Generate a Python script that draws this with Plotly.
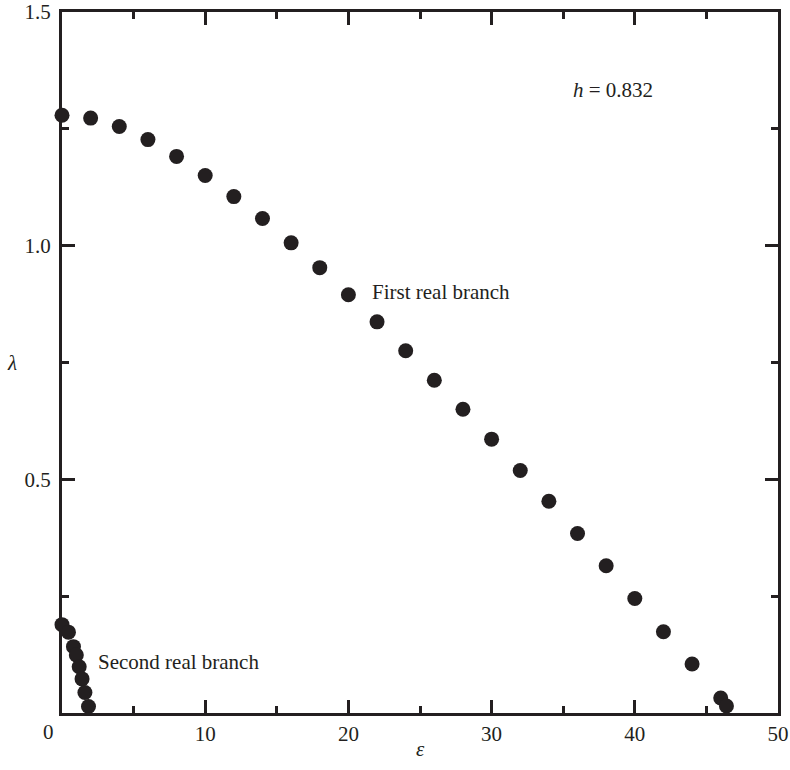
import plotly.graph_objects as go

# First real branch: growth rate lambda vs. epsilon
eps_first = [0, 2, 4, 6, 8, 10, 12, 14, 16, 18, 20, 22, 24, 26, 28, 30,
             32, 34, 36, 38, 40, 42, 44, 46, 46.4]
lam_first = [1.279, 1.273, 1.255, 1.227, 1.191, 1.150, 1.105, 1.058, 1.006,
             0.953, 0.895, 0.837, 0.775, 0.712, 0.650, 0.586, 0.519, 0.453,
             0.384, 0.315, 0.245, 0.174, 0.105, 0.032, 0.015]

# Second real branch
eps_second = [0, 0.45, 0.8, 1.0, 1.2, 1.4, 1.6, 1.85]
lam_second = [0.189, 0.173, 0.142, 0.124, 0.099, 0.073, 0.044, 0.014]

x_ticks = [10, 20, 30, 40, 50]
y_ticks = [0.5, 1.0, 1.5]

INK = "#231f20"
FONT = "Liberation Serif, Times New Roman, serif"
FS = 21

fig = go.Figure()
for xs, ys in [(eps_first, lam_first), (eps_second, lam_second)]:
    fig.add_trace(go.Scatter(
        x=xs, y=ys, mode="markers", cliponaxis=False,
        marker=dict(size=15, color=INK),
        showlegend=False,
    ))

axis_common = dict(
    showline=True, linecolor=INK, linewidth=3, mirror="ticks",
    ticks="inside", ticklen=13, tickwidth=3, tickcolor=INK,
    showgrid=False, zeroline=False, automargin=False,
    tickfont=dict(family=FONT, size=FS, color=INK),
)

fig.update_xaxes(
    range=[0, 50], tickvals=x_ticks, ticktext=[str(v) for v in x_ticks],
    minor=dict(dtick=5, tick0=0, ticks="inside", ticklen=7, tickwidth=3,
               tickcolor=INK, showgrid=False),
    ticklabelstandoff=0,
    **axis_common,
)
fig.update_yaxes(
    range=[0, 1.5], tickvals=y_ticks, ticktext=["0.5", "1.0", "1.5"],
    minor=dict(dtick=0.25, tick0=0, ticks="inside", ticklen=7, tickwidth=3,
               tickcolor=INK, showgrid=False),
    ticklabelstandoff=4,
    **axis_common,
)

text_font = dict(family=FONT, size=FS, color=INK)

# Axis titles (upright symbols)
fig.add_annotation(x=-0.07, y=0.5, xref="paper", yref="paper",
                   text="<i>λ</i>", showarrow=False, font=text_font,
                   xanchor="center", yanchor="middle")
fig.add_annotation(x=0.5, y=-0.051, xref="paper", yref="paper",
                   text="<i>ε</i>", showarrow=False, font=text_font,
                   xanchor="center", yanchor="middle")

# Shared origin label
fig.add_annotation(x=0, y=0, xref="x", yref="y", text="0", showarrow=False,
                   xshift=-14, yshift=-19, font=text_font)

fig.add_annotation(x=38.5, y=1.333, xref="x", yref="y",
                   text="<i>h</i> = 0.832", showarrow=False, font=text_font)
fig.add_annotation(x=21.5, y=0.90, xref="x", yref="y", xanchor="left",
                   text="First real branch", showarrow=False, font=text_font)
fig.add_annotation(x=2.37, y=0.109, xref="x", yref="y", xanchor="left",
                   text="Second real branch", showarrow=False, font=text_font)

fig.update_layout(
    width=790, height=770,
    margin=dict(l=62, r=12, t=12, b=57),
    plot_bgcolor="white", paper_bgcolor="white",
)

fig.write_html("out.html")
